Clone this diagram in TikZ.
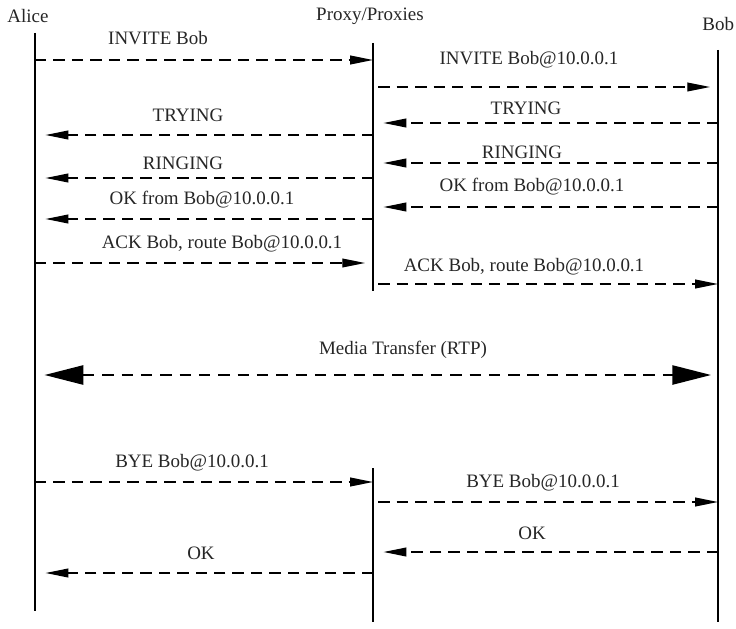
\documentclass[tikz,border=0pt]{standalone}
\usepackage{fontspec}
\setmainfont{Liberation Serif}
\usetikzlibrary{arrows.meta, positioning, calc}
\tikzset{
  lifeline/.style={line width=1pt},
  msg/.style={line width=0.8pt, dash pattern=on 6.5pt off 4pt, -{Triangle[length=13pt, width=5pt]}},
  media/.style={line width=0.8pt, dash pattern=on 6.5pt off 4.5pt, {Triangle[length=22pt, width=11pt]}-{Triangle[length=22pt, width=11pt]}},
  lbl/.style={font=\fontsize{10.8}{13}\selectfont, text=black!85, inner sep=0pt},
}

\begin{document}
\begin{tikzpicture}[x=0.02cm, y=-0.02cm]
  \useasboundingbox (0,0) rectangle (736,628);

  % ----------------------------------------------------
  % Participants and lifelines
  % ----------------------------------------------------
  \node[lbl] (alice) at (28,16) {Alice};
  \node[lbl] (proxy) at (370,16) {Proxy/Proxies};
  \node[lbl, anchor=west] (bob) at (702,24) {Bob};

  \coordinate (A0) at (35,33);  \coordinate (A1) at (35,611);
  \coordinate (P0) at (373,43); \coordinate (P1) at (373,291);
  \coordinate (P2) at (373,468); \coordinate (P3) at (373,622);
  \coordinate (B0) at (718,50); \coordinate (B1) at (718,622);

  \draw[lifeline] (A0) -- (A1);
  \draw[lifeline] (P0) -- (P1);
  \draw[lifeline] (P2) -- (P3);
  \draw[lifeline] (B0) -- (B1);

  % ----------------------------------------------------
  % Call set-up
  % ----------------------------------------------------
  % INVITE
  \draw[msg] (A0 |- 0,60) -- (P0 |- 0,60);
  \node[lbl] (m1) at (158,38) {INVITE Bob};
  \draw[msg, shorten <=3pt, shorten >=4.5pt] (P0 |- 0,87) -- (B0 |- 0,87);
  \node[lbl] (m2) at (529,60) {INVITE Bob@10.0.0.1};

  % TRYING
  \draw[msg, shorten >=6pt] (B0 |- 0,123) -- (P0 |- 0,123);
  \node[lbl] (m3) at (526,108) {TRYING};
  \draw[msg, shorten >=6pt] (P0 |- 0,135) -- (A0 |- 0,135);
  \node[lbl] (m4) at (188,115) {TRYING};

  % RINGING
  \draw[msg, shorten >=6pt] (B0 |- 0,163) -- (P0 |- 0,163);
  \node[lbl] (m5) at (522,152) {RINGING};
  \draw[msg, shorten >=6pt] (P0 |- 0,178) -- (A0 |- 0,178);
  \node[lbl] (m6) at (183,163) {RINGING};

  % OK
  \draw[msg, shorten >=6pt] (B0 |- 0,207) -- (P0 |- 0,207);
  \node[lbl] (m7) at (532,187) {OK from Bob@10.0.0.1};
  \draw[msg, shorten >=6pt] (P0 |- 0,219) -- (A0 |- 0,219);
  \node[lbl] (m8) at (202,200) {OK from Bob@10.0.0.1};

  % ACK
  \draw[msg, shorten >=4.5pt] (A0 |- 0,263) -- (P0 |- 0,263);
  \node[lbl] (m9) at (222,244) {ACK Bob, route Bob@10.0.0.1};
  \draw[msg, shorten <=3pt] (P0 |- 0,284) -- (B0 |- 0,284);
  \node[lbl] (m10) at (524,267) {ACK Bob, route Bob@10.0.0.1};

  % ----------------------------------------------------
  % Media
  % ----------------------------------------------------
  \draw[media, shorten <=5.5pt, shorten >=4pt] (A0 |- 0,375) -- (B0 |- 0,375);
  \node[lbl] (m11) at (403,350) {Media Transfer (RTP)};

  % ----------------------------------------------------
  % Tear-down
  % ----------------------------------------------------
  \draw[msg] (A0 |- 0,482) -- (P2 |- 0,482);
  \node[lbl] (m12) at (192,463) {BYE Bob@10.0.0.1};
  \draw[msg, shorten <=3pt] (P2 |- 0,502) -- (B0 |- 0,502);
  \node[lbl] (m13) at (543,483) {BYE Bob@10.0.0.1};
  \draw[msg, shorten >=6pt] (B0 |- 0,552) -- (P2 |- 0,552);
  \node[lbl] (m14) at (532,533) {OK};
  \draw[msg, shorten >=6pt] (P2 |- 0,573) -- (A0 |- 0,573);
  \node[lbl] (m15) at (201,553) {OK};
\end{tikzpicture}
\end{document}
